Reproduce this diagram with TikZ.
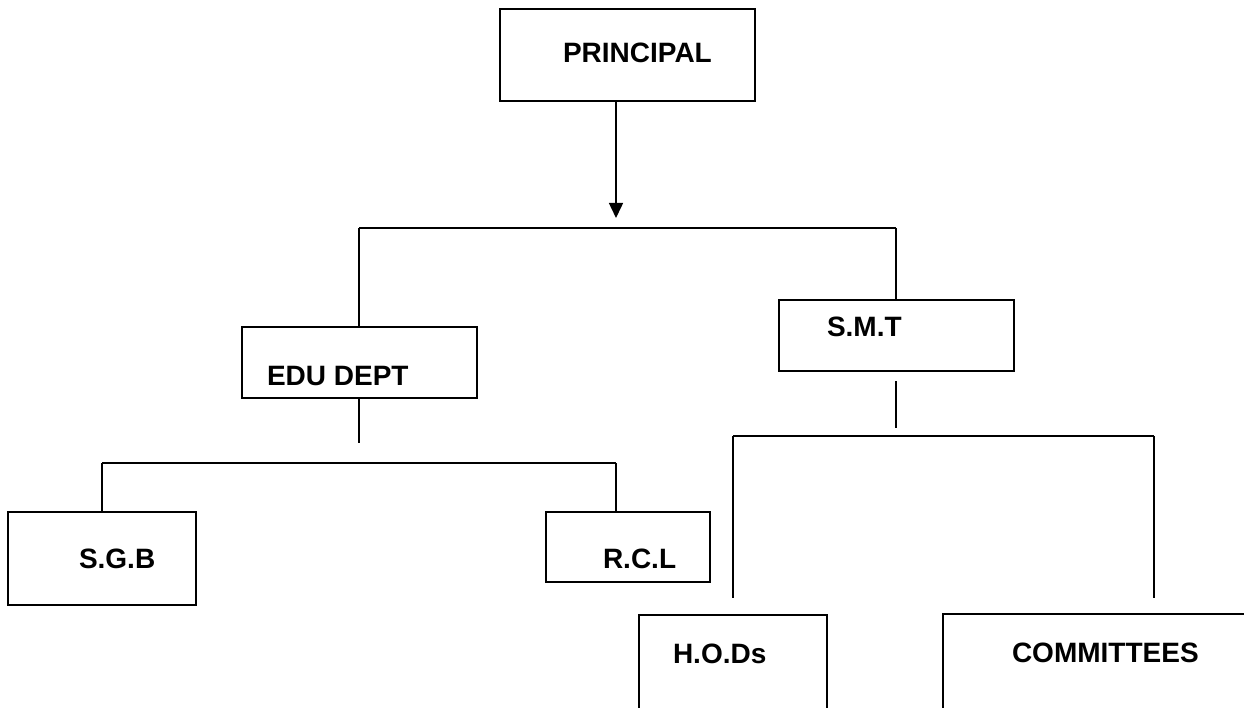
\documentclass[tikz,border=0pt]{standalone}
\usepackage{fontspec}
\setmainfont{Liberation Sans}
\usetikzlibrary{arrows.meta}
\newcommand{\bxt}[5]{\vbox to #2pt{\hsize=#1pt\vskip #4pt\hbox to #1pt{\hskip #3pt\smash{#5}\hss}\vss}}
\begin{document}
\begin{tikzpicture}[x=1pt,y=-1pt,
  orgbox/.style={draw=black,line width=1.5pt,inner sep=0pt,outer sep=0pt,anchor=north west,
    font=\fontsize{28}{34}\selectfont\bfseries},
  conn/.style={draw=black,line width=1.5pt},
  arr/.style={conn,-{Triangle[length=15pt,width=14pt]}}]
\path[use as bounding box] (0,0) rectangle (1244,708);
\fill[white] (0,0) rectangle (1244,708);
\clip (0,0) rectangle (1244,708);
% boxes
\node[orgbox] (principal) at (500,9) {\bxt{255}{92}{63}{54}{PRINCIPAL}};
\node[orgbox] (edu) at (242,327) {\bxt{235}{71}{25}{58}{EDU DEPT}};
\node[orgbox] (smt) at (779,300) {\bxt{235}{71}{48}{36}{S.M.T}};
\node[orgbox] (sgb) at (8,512) {\bxt{188}{93}{71}{56}{S.G.B}};
\node[orgbox] (rcl) at (546,512) {\bxt{164}{70}{57}{56}{R.C.L}};
\node[orgbox] (hods) at (639,615) {\bxt{188}{120}{34}{48}{H.O.Ds}};
\node[orgbox] (comm) at (943,614) {\bxt{340}{120}{69}{48}{COMMITTEES}};
% junction coordinates
\coordinate (a0) at (616,218);
\coordinate (b1L) at (359,228);
\coordinate (b1R) at (896,228);
\coordinate (e1) at (359,443);
\coordinate (b2L) at (102,463);
\coordinate (b2R) at (616,463);
\coordinate (s1a) at (896,381);
\coordinate (s1b) at (896,428);
\coordinate (b3L) at (733,436);
\coordinate (b3R) at (1154,436);
\coordinate (h1) at (733,598);
\coordinate (c1) at (1154,598);
% connectors
\draw[arr] (a0 |- principal.south) -- (a0);
\draw[conn] (b1L) -- (b1R);
\draw[conn] (b1L) -- (b1L |- edu.north);
\draw[conn] (b1R) -- (b1R |- smt.north);
\draw[conn] (e1 |- edu.south) -- (e1);
\draw[conn] (b2L) -- (b2R);
\draw[conn] (b2L) -- (b2L |- sgb.north);
\draw[conn] (b2R) -- (b2R |- rcl.north);
\draw[conn] (s1a) -- (s1b);
\draw[conn] (b3L) -- (b3R);
\draw[conn] (b3L) -- (h1);
\draw[conn] (b3R) -- (c1);
\end{tikzpicture}
\end{document}
